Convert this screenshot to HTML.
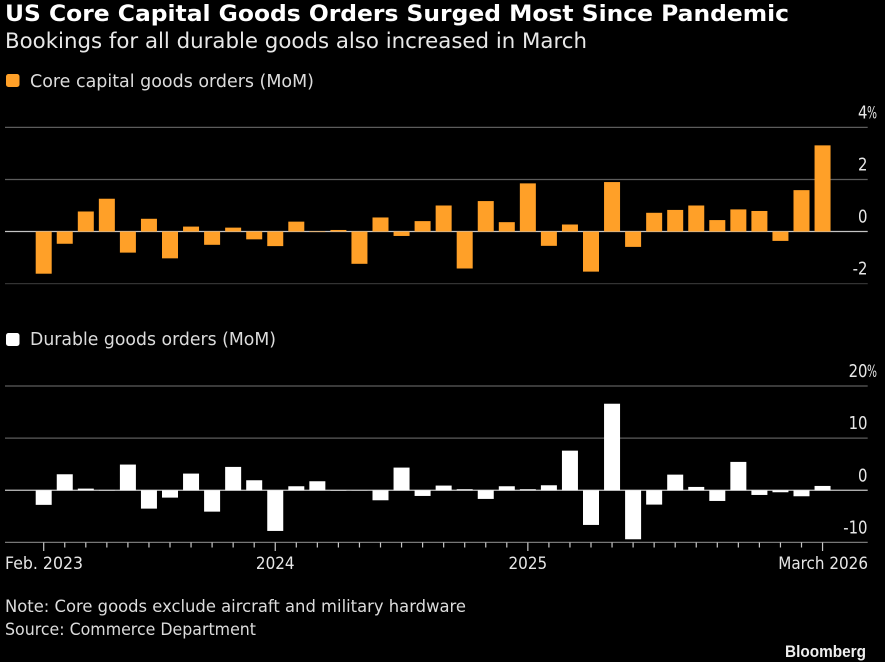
<!DOCTYPE html>
<html lang="en">
<head>
<meta charset="utf-8">
<title>US Core Capital Goods Orders</title>
<style>
html,body{margin:0;padding:0;background:#000;width:885px;height:662px;overflow:hidden}
svg{display:block}
text{font-family:"DejaVu Sans","Liberation Sans",sans-serif;fill:#e6e6e6}
</style>
</head>
<body>
<svg id="chart" xmlns="http://www.w3.org/2000/svg" width="885" height="662" viewBox="0 0 885 662">
<rect x="0" y="0" width="885" height="662" fill="#000"/>
<text x="5" y="21" font-size="22" font-weight="700" style="fill:#fff" textLength="784" lengthAdjust="spacingAndGlyphs">US Core Capital Goods Orders Surged Most Since Pandemic</text>
<text x="5" y="48" font-size="21" style="fill:#e8e8e8" textLength="582" lengthAdjust="spacingAndGlyphs">Bookings for all durable goods also increased in March</text>
<rect x="6" y="74" width="13.5" height="13" rx="2.5" fill="#ffa028"/>
<text x="30" y="87" font-size="17.5" style="fill:#dcdcdc" textLength="284" lengthAdjust="spacingAndGlyphs">Core capital goods orders (MoM)</text>
<rect x="6" y="333" width="13.5" height="13" rx="2.5" fill="#fff"/>
<text x="30" y="345" font-size="17.5" style="fill:#dcdcdc" textLength="246" lengthAdjust="spacingAndGlyphs">Durable goods orders (MoM)</text>
<g id="core-panel"></g>
<g id="durable-panel"></g>
<g id="x-axis"></g>
<text x="5" y="612" font-size="16.5" style="fill:#dcdcdc" textLength="461" lengthAdjust="spacingAndGlyphs">Note: Core goods exclude aircraft and military hardware</text>
<text x="5" y="635" font-size="16.5" style="fill:#dcdcdc" textLength="251" lengthAdjust="spacingAndGlyphs">Source: Commerce Department</text>
<text x="785" y="657" font-size="17" font-weight="700" style="fill:#eee;font-family:'Liberation Sans',sans-serif" textLength="81" lengthAdjust="spacingAndGlyphs">Bloomberg</text>
</svg>
<script>
var months = ["Feb 2023","Mar 2023","Apr 2023","May 2023","Jun 2023","Jul 2023","Aug 2023","Sep 2023","Oct 2023","Nov 2023","Dec 2023","Jan 2024","Feb 2024","Mar 2024","Apr 2024","May 2024","Jun 2024","Jul 2024","Aug 2024","Sep 2024","Oct 2024","Nov 2024","Dec 2024","Jan 2025","Feb 2025","Mar 2025","Apr 2025","May 2025","Jun 2025","Jul 2025","Aug 2025","Sep 2025","Oct 2025","Nov 2025","Dec 2025","Jan 2026","Feb 2026","Mar 2026"];
var coreValues = [-1.62,-0.47,0.77,1.26,-0.81,0.49,-1.03,0.19,-0.51,0.15,-0.3,-0.56,0.38,-0.02,0.06,-1.24,0.54,-0.17,0.4,1.0,-1.42,1.17,0.36,1.85,-0.55,0.27,-1.54,1.9,-0.59,0.72,0.83,1.0,0.44,0.85,0.79,-0.36,1.59,3.31];
var durableValues = [-2.8,3.07,0.32,0.06,4.93,-3.52,-1.41,3.2,-4.1,4.48,1.92,-7.8,0.77,1.73,-0.06,0.03,-1.92,4.35,-1.09,0.9,0.2,-1.66,0.77,0.2,0.96,7.6,-6.65,16.6,-9.4,-2.75,3.0,0.64,-2.05,5.44,-0.9,-0.38,-1.15,0.83];
var coreTicks = [4,2,0,-2];
var coreTickLabels = ["4","2","0","-2"];
var durableTicks = [20,10,0,-10];
var durableTickLabels = ["20","10","0","-10"];
var unitSuffix = "%";
var xLabelMonths = ["Feb 2023","Jan 2024","Jan 2025","Mar 2026"];
var xLabels = ["Feb. 2023","2024","2025","March 2026"];

var NS = "http://www.w3.org/2000/svg";
var GRID_L = 5, GRID_R = 867.7;
var X0 = 43.7, XSTEP = 21.05, BAR_W = 16;
function xPos(i){ return X0 + i * XSTEP; }
function make(tag, attrs){
  var el = document.createElementNS(NS, tag);
  for (var k in attrs) el.setAttribute(k, attrs[k]);
  return el;
}
function drawPanel(root, values, ticks, labels, color, top, bottom, prefix){
  var hi = ticks[0], lo = ticks[ticks.length - 1];
  function y(v){ return top + (hi - v) * (bottom - top) / (hi - lo); }
  ticks.forEach(function(t, i){
    var isZero = t === 0;
    var ln = make("line", {x1:GRID_L, x2:GRID_R, y1:y(t), y2:y(t),
      stroke: isZero ? "#c4c4c4" : (i === ticks.length - 1 ? (prefix === "core" ? "#333" : "#777") : "#5c5c5c"),
      "stroke-width": isZero ? 1.3 : 1.2});
    
    
    root.appendChild(ln);
    var tx = make("text", {"font-size": 17.5, "text-anchor": "end", transform: "translate(867.5," + (y(t) - 9) + ") scale(0.85,1)"});
    
    
    tx.textContent = labels[i];
    root.appendChild(tx);
    if (i === 0) {
      var pct = make("text", {"font-size": 17, x: 867, y: y(t) - 9, textLength: 10, lengthAdjust: "spacingAndGlyphs"});
      
      
      pct.textContent = unitSuffix;
      root.appendChild(pct);
    }
  });
  values.forEach(function(v, i){
    var y0 = y(0), yv = y(v);
    var r = make("rect", {x: xPos(i) - BAR_W / 2, y: Math.min(y0, yv), width: BAR_W, height: Math.abs(yv - y0), fill: color});
    
    
    root.appendChild(r);
  });
}
drawPanel(document.getElementById("core-panel"), coreValues, coreTicks, coreTickLabels, "#ffa028", 127.4, 283.6, "core");
drawPanel(document.getElementById("durable-panel"), durableValues, durableTicks, durableTickLabels, "#ffffff", 386, 542.4, "durable");

var xAxis = document.getElementById("x-axis");
months.forEach(function(m, i){
  var major = xLabelMonths.indexOf(m) >= 0;
  var t = make("line", {x1:xPos(i), x2:xPos(i), y1:542.4, y2: major ? 551 : 547.5, stroke:"#c8c8c8", "stroke-width":1.2});
  
  
  xAxis.appendChild(t);
});
xLabelMonths.forEach(function(m, i){
  var idx = months.indexOf(m);
  var last = i === xLabelMonths.length - 1;
  var first = i === 0;
  var tx = make("text", {x: first ? 5 : (last ? 868 : xPos(idx)), y: 569, "font-size": 16.5, "text-anchor": first ? "start" : (last ? "end" : "middle")});
  
  
  tx.textContent = xLabels[i];
  xAxis.appendChild(tx);
  tx.setAttribute("textLength", tx.getComputedTextLength() * (first ? 0.955 : 0.92));
  tx.setAttribute("lengthAdjust", "spacingAndGlyphs");
});
</script>
</body>
</html>
